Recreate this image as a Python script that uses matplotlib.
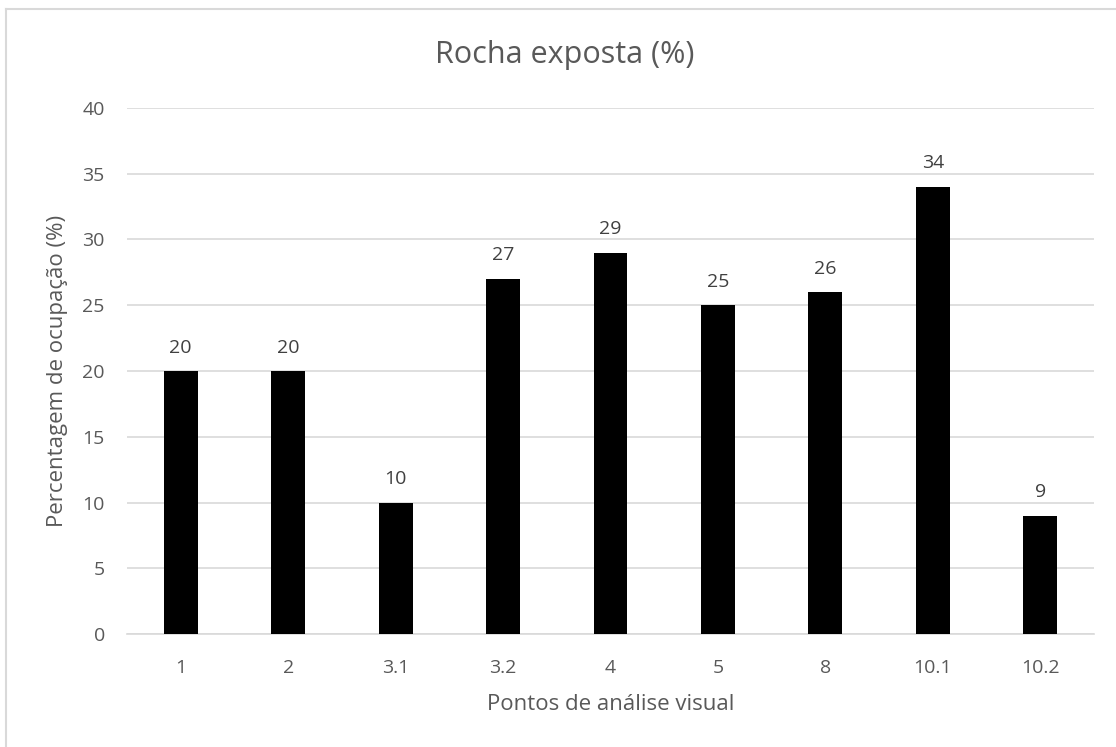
import matplotlib.pyplot as plt
from matplotlib.lines import Line2D

plt.rcParams['font.family'] = ['Open Sans', 'DejaVu Sans']

pontos = ["1", "2", "3.1", "3.2", "4", "5", "8", "10.1", "10.2"]
rocha = [20, 20, 10, 27, 29, 25, 26, 34, 9]

W, H = 1116, 747
fig = plt.figure(figsize=(W / 100, H / 100), dpi=100)
# plot area: x 127..1094 px, y 108..634 px
ax = fig.add_axes([127 / W, 1 - 634.3 / H, 967 / W, 526.6 / H])

x = range(len(pontos))
ax.bar(x, rocha, width=0.315, color="black", zorder=3)
for xi, v in zip(x, rocha):
    ax.text(xi, v + 1.4, str(v), ha="center", va="baseline", fontsize=14, color="#404040")

ax.set_xlim(-0.5, len(pontos) - 0.5)
ax.set_ylim(0, 40)
ax.set_yticks(range(0, 41, 5))
ax.set_xticks(list(x))
ax.set_xticklabels(pontos)
ax.grid(axis="y", color="#d9d9d9", linewidth=1.2, zorder=0)
for s in ["top", "right", "left"]:
    ax.spines[s].set_visible(False)
ax.spines["bottom"].set_color("#d9d9d9")
ax.spines["bottom"].set_linewidth(1.2)
ax.tick_params(axis="both", length=0, labelsize=14, labelcolor="#595959")
ax.tick_params(axis="x", pad=18)
ax.tick_params(axis="y", pad=16)

fig.text(565 / W, 1 - 55 / H, "Rocha exposta (%)", ha="center", va="center",
         fontsize=22, color="#595959")
ax.set_xlabel("Pontos de análise visual", fontsize=16, color="#595959", va="center")
ax.xaxis.set_label_coords(0.5, (634.3 - 705) / 526.6)
ax.set_ylabel("Percentagem de ocupação (%)", fontsize=16, color="#595959", va="center")
ax.yaxis.set_label_coords((57 - 127) / 967, 0.5)

# chart-area border (only top and left edges are visible in the crop)
fig.add_artist(Line2D([5.5 / W, 5.5 / W], [0, 1 - 9 / H], transform=fig.transFigure,
                      color="#d9d9d9", linewidth=1.5))
fig.add_artist(Line2D([5.5 / W, 1], [1 - 9 / H, 1 - 9 / H], transform=fig.transFigure,
                      color="#d9d9d9", linewidth=1.5))

fig.savefig("out.png", dpi=100)
